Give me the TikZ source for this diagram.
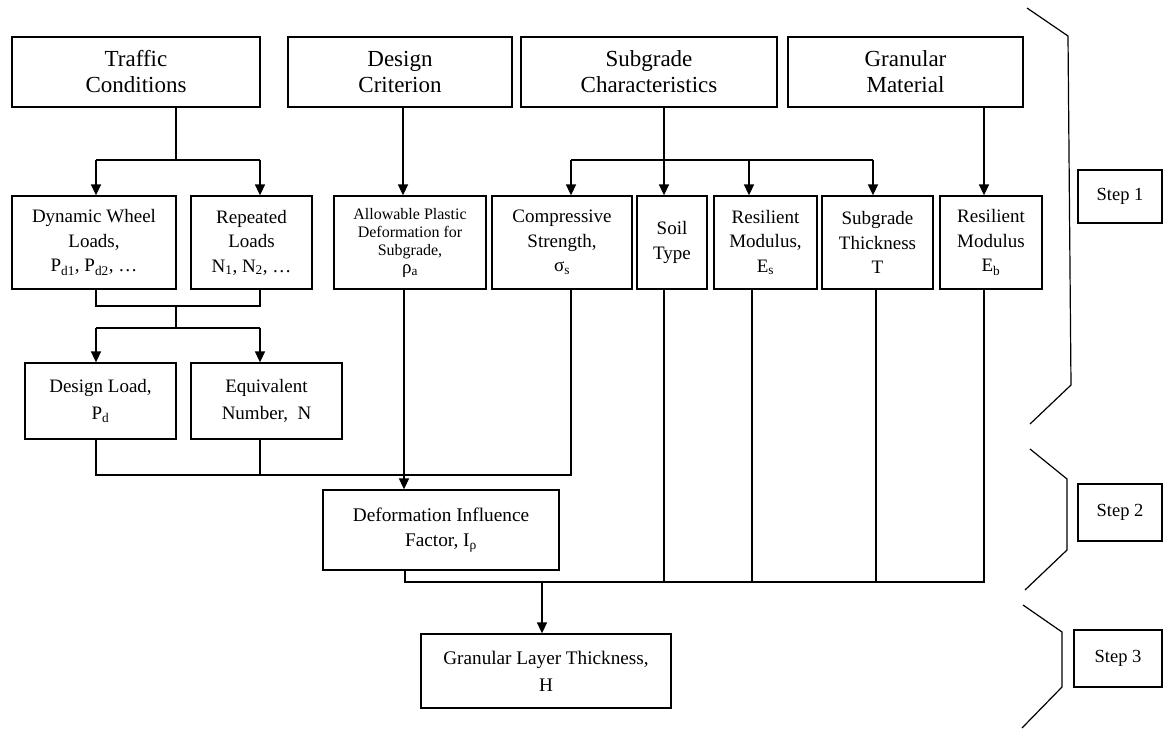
\documentclass[tikz,border=0pt]{standalone}
\usepackage{fontspec}
\setmainfont{Liberation Serif}
\usetikzlibrary{arrows.meta}
\newcommand{\sbs}[1]{\textsubscript{#1}}
\begin{document}
\begin{tikzpicture}[x=1pt,y=-1pt,
  box/.style={draw, line width=1.3pt, inner sep=0pt, align=center},
  big/.style={font=\fontsize{23}{26}\selectfont},
  mid/.style={font=\fontsize{19}{24.5}\selectfont},
  low/.style={font=\fontsize{19}{27}\selectfont},
  small/.style={font=\fontsize{16}{18}\selectfont},
  note/.style={font=\fontsize{19.3}{25}\selectfont},
  stepbox/.style={box, line width=1.2pt, font=\fontsize{18.5}{22}\selectfont},
  arr/.style={line width=1.6pt, -{Triangle[length=11pt,width=10pt]}},
  ln/.style={line width=1.4pt},
  thinln/.style={line width=1.1pt},
  bracket/.style={line width=1.2pt}]
\useasboundingbox (0,0) rectangle (1163,729);

% top row: inputs
\node[box, big, minimum width=248pt, minimum height=70pt] (traffic) at (136,72) {Traffic\\Conditions};
\node[box, big, minimum width=224pt, minimum height=70pt] (design) at (400,72) {Design\\Criterion};
\node[box, big, minimum width=256pt, minimum height=70pt] (subgrade) at (649,72) {Subgrade\\Characteristics};
\node[box, big, minimum width=235pt, minimum height=70pt] (granular) at (905.5,72) {Granular\\Material};

% second row: parameters
\node[box, mid, minimum width=164pt, minimum height=93pt] (dyn) at (94,242.5) {Dynamic Wheel\\Loads,\\P\sbs{d1}, P\sbs{d2}, …};
\node[box, mid, minimum width=121pt, minimum height=93pt] (rep) at (251.5,242.5) {Repeated\\Loads\\N\sbs{1}, N\sbs{2}, …};
\node[box, small, minimum width=152pt, minimum height=93pt] (allow) at (410,242.5) {Allowable Plastic\\Deformation for\\Subgrade,\\{\fontsize{19}{20}\selectfont ρ\sbs{a}}};
\node[box, mid, minimum width=140pt, minimum height=93pt] (comp) at (562,242.5) {Compressive\\Strength,\\σ\sbs{s}};
\node[box, mid, minimum width=70pt, minimum height=93pt] (soil) at (672,242.5) {Soil\\Type};
\node[box, mid, minimum width=103pt, minimum height=93pt] (resmod) at (765.5,242.5) {Resilient\\Modulus,\\E\sbs{s}};
\node[box, mid, minimum width=111pt, minimum height=93pt] (thick) at (877.5,242.5) {Subgrade\\Thickness\\T};
\node[box, mid, minimum width=102pt, minimum height=93pt] (resb) at (991,242.5) {Resilient\\Modulus\\E\sbs{b}};

% third row: design load and number
\node[box, low, minimum width=151pt, minimum height=76pt] (dload) at (100.5,401) {Design Load,\\P\sbs{d}};
\node[box, low, minimum width=151pt, minimum height=76pt] (equiv) at (266.5,401) {Equivalent\\Number,\ \ N};

% results
\node[box, note, minimum width=236pt, minimum height=80pt] (deform) at (441,530) {Deformation Influence\\Factor, I\sbs{ρ}};
\node[box, font=\fontsize{19.2}{27}\selectfont, minimum width=250pt, minimum height=74pt] (glt) at (546,671) {Granular Layer Thickness,\\H};

% step labels
\node[stepbox, minimum width=84pt, minimum height=53pt] (step1) at (1120,196.5) {Step 1};
\node[stepbox, minimum width=84pt, minimum height=57pt] (step2) at (1120,512.5) {Step 2};
\node[stepbox, minimum width=88pt, minimum height=57pt] (step3) at (1118,658.5) {Step 3};

% junction points
\coordinate (tj) at (176,160);
\coordinate (tl) at (96,160);
\coordinate (tr) at (260,160);
\coordinate (dcx) at (403,0);
\coordinate (sj) at (664,160);
\coordinate (sl) at (571,160);
\coordinate (sm) at (749,160);
\coordinate (sr) at (873,160);
\coordinate (gx) at (984,0);
\coordinate (m1l) at (96,306);
\coordinate (m1r) at (260,306);
\coordinate (m1c) at (176,306);
\coordinate (m2c) at (176,328);
\coordinate (m2l) at (96,328);
\coordinate (m2r) at (260,328);
\coordinate (m3l) at (96,475);
\coordinate (m3r) at (260,475);
\coordinate (m3c) at (571,475);
\coordinate (ax) at (404,0);
\coordinate (b0) at (405,582);
\coordinate (b1) at (664,582);
\coordinate (b2) at (752,582);
\coordinate (b3) at (876,582);
\coordinate (b4) at (984,582);
\coordinate (bo) at (542,582);

% traffic conditions branch
\draw[ln] (tj |- traffic.south) -- (tj);
\draw[ln] (tl) -- (tr);
\draw[arr] (tl) -- (tl |- dyn.north);
\draw[arr] (tr) -- (tr |- rep.north);

% design criterion
\draw[arr] (dcx |- design.south) -- (dcx |- allow.north);

% subgrade characteristics branch
\draw[arr] (sj |- subgrade.south) -- (sj |- soil.north);
\draw[ln] (sl) -- (sr);
\draw[arr] (sl) -- (sl |- comp.north);
\draw[arr] (sm) -- (sm |- resmod.north);
\draw[arr] (sr) -- (sr |- thick.north);

% granular material
\draw[arr] (gx |- granular.south) -- (gx |- resb.north);

% loads to design load and equivalent number
\draw[thinln] (m1l |- dyn.south) -- (m1l) -- (m1r) -- (m1r |- rep.south);
\draw[thinln] (m1c) -- (m2c);
\draw[thinln] (m2l) -- (m2r);
\draw[arr] (m2l) -- (m2l |- dload.north);
\draw[arr] (m2r) -- (m2r |- equiv.north);

% inputs to deformation influence factor
\draw[thinln] (m3l |- dload.south) -- (m3l) -- (m3c) -- (m3c |- comp.south);
\draw[thinln] (m3r |- equiv.south) -- (m3r);
\draw[arr] (ax |- allow.south) -- (ax |- deform.north);

% inputs to granular layer thickness
\draw[thinln] (b0 |- deform.south) -- (b0) -- (b4) -- (b4 |- resb.south);
\draw[thinln] (b1) -- (b1 |- soil.south);
\draw[thinln] (b2) -- (b2 |- resmod.south);
\draw[thinln] (b3) -- (b3 |- thick.south);
\draw[arr] (bo) -- (bo |- glt.north);

% step brackets
\draw[bracket] (1027,8) -- (1068,36) -- (1071,385) -- (1030,424);
\draw[bracket] (1030,449) -- (1067,479) -- (1067,550) -- (1025,590);
\draw[bracket] (1023,605) -- (1062,632) -- (1062,687) -- (1022,728);
\end{tikzpicture}
\end{document}
